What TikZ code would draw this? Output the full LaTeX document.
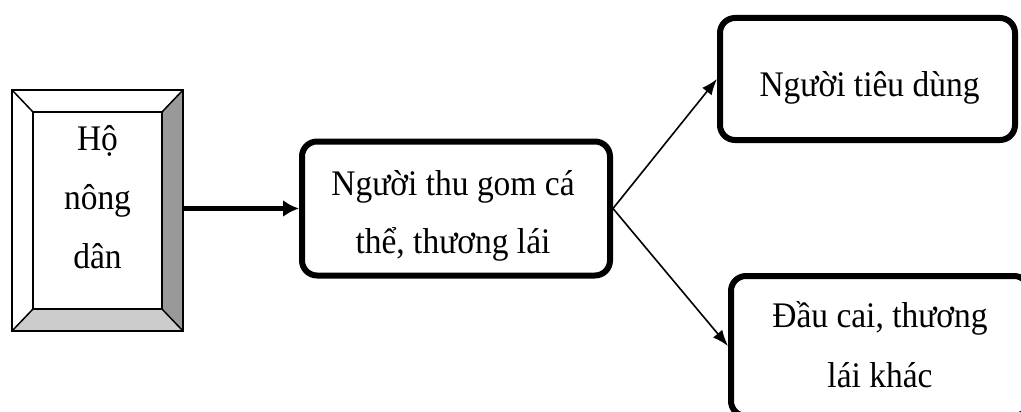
\documentclass[tikz,border=0pt]{standalone}
\usepackage{fontspec}
\setmainfont[FakeStretch=0.93]{Liberation Serif}
\usetikzlibrary{arrows.meta}
\definecolor{bevelDark}{HTML}{999999}
\definecolor{bevelLight}{HTML}{CCCCCC}
\tikzset{
  roundbox/.style={draw, line width=6pt, rounded corners=15pt, inner sep=0pt, fill=white},
  txt/.style={inner sep=0pt, anchor=base, font=\fontsize{36pt}{42pt}\selectfont},
  bigarrow/.style={line width=5pt, -{Latex[length=16pt,width=17pt]}},
  thinarrow/.style={line width=1.6pt, -{Latex[length=16pt,width=12pt]}},
  bevelline/.style={line width=1.5pt, line join=miter},
}
\begin{document}
\begin{tikzpicture}[x=1pt, y=-1pt]
  \useasboundingbox (0,0) rectangle (1021,412);
  \clip (0,0) rectangle (1021,412);

  % bevelled frame of the farmers' box
  \fill[white] (12,90) -- (33,112) -- (33,309) -- (12,331) -- cycle;
  \fill[white] (12,90) -- (183,90) -- (162,112) -- (33,112) -- cycle;
  \fill[bevelDark] (183,90) -- (183,331) -- (162,309) -- (162,112) -- cycle;
  \fill[bevelLight] (12,331) -- (183,331) -- (162,309) -- (33,309) -- cycle;
  \draw[bevelline] (12,90) rectangle (183,331);
  \draw[bevelline] (33,112) rectangle (162,309);
  \draw[bevelline] (12,90) -- (33,112) (183,90) -- (162,112)
                   (12,331) -- (33,309) (183,331) -- (162,309);
  \node[inner sep=0pt, minimum width=171pt, minimum height=241pt] (ho) at (97.5,210.5) {};
  \node[txt] (ho-l1) at (97.5,150) {Hộ};
  \node[txt] (ho-l2) at (97.5,209) {nông};
  \node[txt] (ho-l3) at (97.5,268) {dân};

  % collectors
  \node[roundbox, minimum width=308pt, minimum height=134pt] (mid) at (456,208.5) {};
  \node[txt] (mid-l1) at (453,195) {Người thu gom cá};
  \node[txt] (mid-l2) at (453,253) {thể, thương lái};

  % consumers
  \node[roundbox, minimum width=295pt, minimum height=122pt] (cons) at (867.5,79) {};
  \node[txt] (cons-l1) at (869.5,97) {Người tiêu dùng};

  % wholesalers
  \node[roundbox, minimum width=298pt, minimum height=140pt] (whole) at (880,346) {};
  \node[txt] (whole-l1) at (880,327) {Đầu cai, thương};
  \node[txt] (whole-l2) at (880,387) {lái khác};

  % flows
  \draw[bigarrow] (ho.east |- mid.west) -- (mid.west);
  \draw[thinarrow] (mid.east) -- (cons.west);
  \draw[thinarrow] (mid.east) -- (whole.west);
\end{tikzpicture}
\end{document}
